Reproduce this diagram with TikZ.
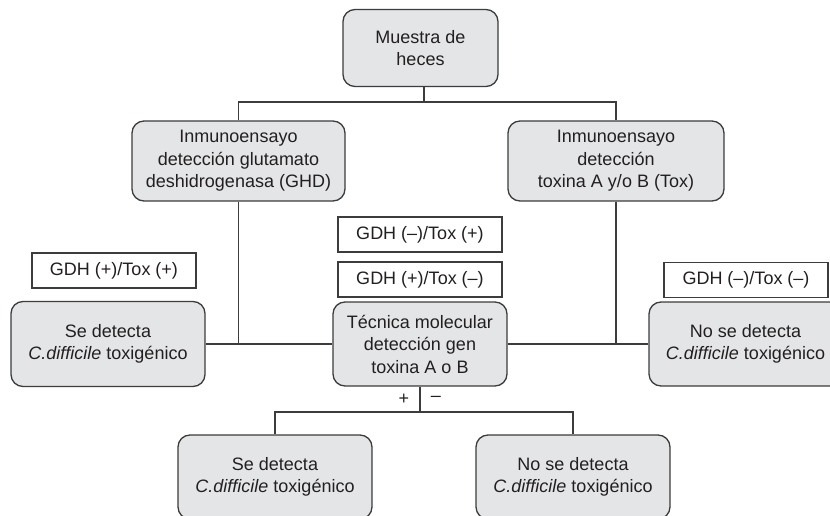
\documentclass[tikz,border=0pt]{standalone}
\usepackage{fontspec}
\setmainfont{Liberation Sans}
\usetikzlibrary{calc}
\definecolor{boxfill}{HTML}{E4E5E7}
\definecolor{edge}{HTML}{3C3C3C}
\definecolor{ink}{HTML}{231F20}
\tikzset{
  stage/.style={draw=edge, fill=boxfill, line width=1.3pt, rounded corners=12pt,
    align=center, text=ink, inner sep=0pt, font=\fontsize{18}{22.5}\selectfont},
  result/.style={draw=edge, fill=white, line width=1.3pt, align=center, text=ink,
    inner sep=0pt, minimum width=164pt, minimum height=35pt,
    font=\fontsize{18}{22.5}\selectfont},
  link/.style={draw=edge, line width=1.3pt},
  sign/.style={text=ink, inner sep=0pt, font=\fontsize{18}{22.5}\selectfont}
}
\begin{document}
\begin{tikzpicture}[x=1pt, y=-1pt]
\useasboundingbox (0,0) rectangle (830,516);
\clip (0,0) rectangle (830,516);

% sample and the two immunoassays
\node[stage, minimum width=155pt, minimum height=77pt] (top) at (420.5,48) {Muestra de\\heces};
\node[stage, minimum width=213pt, minimum height=80pt] (ghd) at (238.5,161)
  {Inmunoensayo\\detección glutamato\\deshidrogenasa (GHD)};
\node[stage, minimum width=216pt, minimum height=80pt] (tox) at (616,161)
  {Inmunoensayo\\detección\\toxina A y/o B (Tox)};

% outcomes of the combined result
\node[stage, minimum width=194pt, minimum height=85pt] (left) at (108,344)
  {Se detecta\\\textit{C.difficile} toxigénico};
\node[stage, minimum width=174pt, minimum height=84pt] (mid) at (420,344)
  {Técnica molecular\\detección gen\\toxina A o B};
\node[stage, minimum width=193pt, minimum height=84pt] (right) at (745.5,344)
  {No se detecta\\\textit{C.difficile} toxigénico};

% outcomes of the molecular test
\node[stage, minimum width=194pt, minimum height=84pt] (bl) at (275,477)
  {Se detecta\\\textit{C.difficile} toxigénico};
\node[stage, minimum width=194pt, minimum height=84pt] (br) at (573,477)
  {No se detecta\\\textit{C.difficile} toxigénico};

% result labels
\node[result] (pp) at (114,270.5) {GDH (+)/Tox (+)};
\node[result] (mp) at (420,234.5) {GDH (--)/Tox (+)};
\node[result] (pm) at (420,279.5) {GDH (+)/Tox (--)};
\node[result] (mm) at (746,280) {GDH (--)/Tox (--)};

% branch signs
\node[sign] (plus) at (404,399) {+};
\node[sign] (minus) at (436,399) {--};

% connectors
\coordinate (j1) at (424,102);
\coordinate (j2) at (420,412);
\draw[link] (j1 |- top.south) -- (j1);
\draw[link] (ghd.north) |- (j1) -| (tox.north);
\draw[link] (ghd.south) |- (left.east);
\draw[link] (left.east) -- (mid.west);
\draw[link] (tox.south) |- (right.west);
\draw[link] (mid.east) -- (right.west);
\draw[link] (mid.south) -- (j2);
\draw[link] (bl.north) |- (j2) -| (br.north);
\end{tikzpicture}
\end{document}
